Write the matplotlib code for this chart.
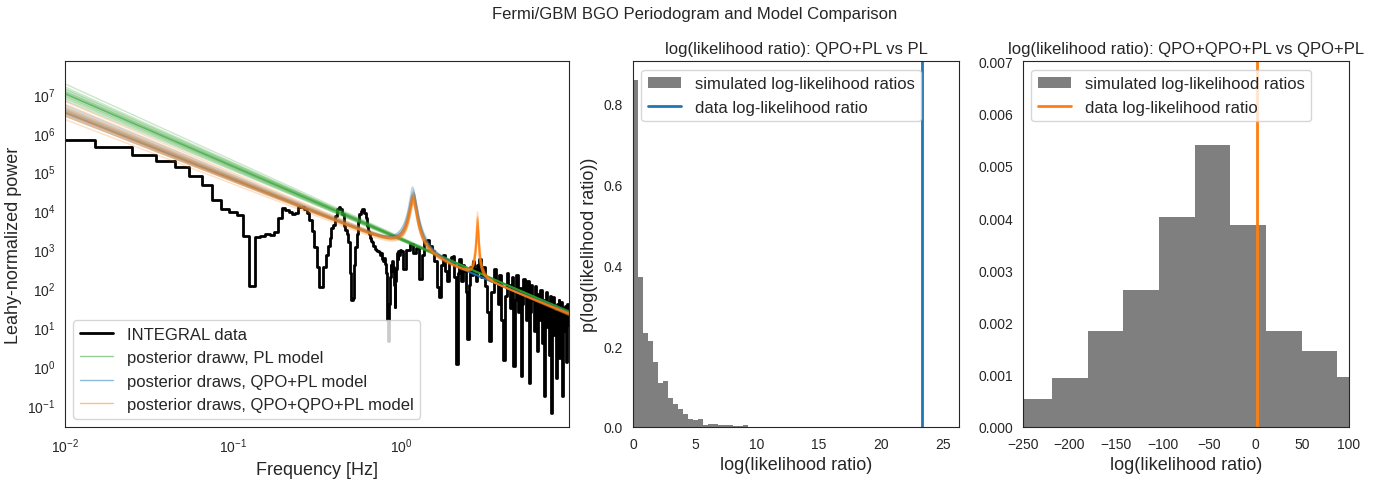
import matplotlib
matplotlib.use("Agg")
import matplotlib.pyplot as plt, seaborn as sns, numpy as np
from matplotlib.lines import Line2D
from matplotlib.ticker import NullLocator

sns.set_style("white")
plt.rcParams['font.family'] = ['Liberation Sans', 'DejaVu Sans']

# ---- periodogram (log10 Leahy power) ----
freq_lo = np.round(np.arange(1, 101) * 0.01, 2)          # 0.01 .. 1.00 Hz
logpow_lo = [5.81, 5.63, 5.43, 5.28, 5.11, 4.90, 4.65, 4.28, 4.03, 3.97,
             3.88, 3.35, 2.07, 3.33, 3.35, 3.39, 3.38, 3.46, 3.80, 4.06,
             4.02, 3.96, 3.90, 3.95, 4.08, 4.08, 4.05, 3.95, 3.75, 3.47,
             3.06, 2.55, 2.04, 2.04, 2.55, 2.85, 3.10, 3.30, 3.55, 3.62,
             3.85, 4.03, 4.08, 4.05, 3.90, 3.60, 3.50, 3.40, 3.20, 2.40,
             1.69, 1.75, 2.60, 3.06, 3.40, 3.70, 3.90, 4.00, 4.04, 4.03,
             3.95, 3.80, 3.60, 3.47, 3.40, 3.30, 3.22, 3.20, 3.10, 3.02,
             2.98, 2.95, 2.97, 2.93, 2.85, 2.92, 2.80, 2.75, 2.70, 2.78,
             2.62, 2.40, 1.20, 0.66, 1.60, 2.30, 2.60, 2.45, 2.70, 2.55,
             2.10, 1.52, 2.20, 2.50, 2.90, 2.75, 2.95, 2.85, 3.00, 2.95]
freq_mid = np.round(np.arange(21, 61) * 0.05, 2)         # 1.05 .. 3.00 Hz
logpow_mid = [2.50, 3.00, 3.15, 2.90, 3.05, 2.24, 2.85, 3.22, 3.25, 3.10,
              2.95, 2.70, 2.04, 1.78, 2.60, 2.85, 2.45, 2.20, 2.65, 2.80,
              2.83, 2.30, 0.07, 2.40, 2.75, 2.20, 2.60, 2.45, 1.90, 0.70,
              2.10, 2.55, 2.35, 2.70, 2.50, 2.20, 2.60, 2.45, 2.75, 2.30]
freq_hi = np.round(np.arange(31, 100) * 0.1, 2)          # 3.1 .. 9.9 Hz
logpow_hi = [2.55, 2.05, 1.40, 0.66, 1.90, 2.50, 2.20, 1.60, 2.35, 1.20,
             0.15, 1.80, 2.40, 2.10, 1.50, 2.30, 0.00, 1.70, 2.35, 1.40,
             2.00, -0.26, 1.60, 2.25, 1.90, 1.20, 2.20, -0.44, 1.40, 2.10,
             1.70, 0.90, 2.05, 1.50, 0.40, 1.85, 1.20, 1.95, 0.60, 1.70,
             -0.77, 1.50, 1.90, 1.00, 1.65, 0.30, 1.80, 1.20, -1.20, 1.50,
             1.78, 0.80, 1.40, -0.30, 1.60, 1.10, 1.70, 0.20, 1.30, 1.65,
             -0.77, 1.20, 1.50, 0.90, 1.55, 0.10, 1.35, 1.60, 1.05]

# ---- posterior draws: power law (log10 power at 5 Hz, index) ----
pl_index = [1.80, 1.82, 1.83, 1.84, 1.85, 1.86, 1.86, 1.87, 1.87, 1.87,
            1.88, 1.88, 1.89, 1.90, 1.91, 1.92, 1.94, 1.97]
pl_norm5 = [1.97, 1.96, 1.96, 1.97, 1.95, 1.96, 1.97, 1.96, 1.95, 1.96,
            1.97, 1.95, 1.96, 1.95, 1.96, 1.95, 1.94, 1.94]

# QPO + PL
q1_index = [1.68, 1.70, 1.71, 1.72, 1.72, 1.73, 1.73, 1.74, 1.75, 1.76, 1.78, 1.80]
q1_norm5 = [1.89, 1.88, 1.88, 1.87, 1.88, 1.87, 1.86, 1.87, 1.86, 1.86, 1.85, 1.85]
q1_f0 = [1.17, 1.18, 1.18, 1.19, 1.17, 1.18, 1.19, 1.18, 1.17, 1.18, 1.18, 1.19]
q1_amp = [18000, 25000, 30000, 22000, 40000, 20000, 26000, 15000, 24000, 35000, 21000, 28000]
q1_hw = [0.045, 0.040, 0.050, 0.045, 0.040, 0.050, 0.045, 0.050, 0.045, 0.040, 0.050, 0.045]

# QPO + QPO + PL
q2_index = [1.66, 1.69, 1.70, 1.71, 1.72, 1.73, 1.73, 1.74, 1.75, 1.76, 1.77, 1.79, 1.81, 1.84]
q2_norm5 = [1.86, 1.87, 1.86, 1.87, 1.86, 1.86, 1.85, 1.86, 1.85, 1.86, 1.85, 1.84, 1.85, 1.84]
q2_f1 = [1.18, 1.17, 1.18, 1.19, 1.18, 1.18, 1.17, 1.19, 1.18, 1.18, 1.17, 1.18, 1.19, 1.18]
q2_amp1 = [16000, 22000, 19000, 26000, 14000, 21000, 24000, 18000, 28000, 17000, 20000, 23000, 15000, 19000]
q2_f2 = [2.84, 2.85, 2.86, 2.85, 2.84, 2.86, 2.85, 2.85, 2.84, 2.86, 2.85, 2.85, 2.86, 2.84]
q2_amp2 = [3000, 6500, 4000, 9000, 2500, 5000, 3500, 7000, 2000, 4500, 6000, 3000, 5500, 4000]
q2_hw2 = [0.035, 0.030, 0.035, 0.030, 0.040, 0.035, 0.030, 0.035, 0.040, 0.030, 0.035, 0.035, 0.030, 0.035]

# ---- simulated likelihood ratio distributions (density per bin) ----
lrt1_range = (0.0, 9.3)
lrt1_density = [0.860, 0.371, 0.232, 0.214, 0.162, 0.110, 0.115, 0.072, 0.057, 0.045,
                0.031, 0.021, 0.017, 0.019, 0.004, 0.008, 0.008, 0.006, 0.005, 0.004,
                0.002, 0.002, 0.004]
lrt1_data = 23.3

lrt2_range = (-257.2, 125.8)
lrt2_density = [0.00053, 0.00093, 0.00184, 0.00263, 0.00402, 0.00540, 0.00386,
                0.00184, 0.00145, 0.00096]
lrt2_data = 1.5

GREEN, BLUE, ORANGE = '#2ca02c', '#1f77b4', '#ff7f0e'


def powerlaw(f, norm5, index):
    return 10 ** (norm5 - index * (np.log10(f) - np.log10(5.0)))


def lorentz(f, f0, amp, hw):
    return amp * hw ** 2 / ((f - f0) ** 2 + hw ** 2)


fig = plt.figure(figsize=(13.89, 4.81), dpi=100)
ax1 = fig.add_axes([0.0468, 0.1102, 0.3629, 0.7600])
ax2 = fig.add_axes([0.4557, 0.1102, 0.2347, 0.7600])
ax3 = fig.add_axes([0.7365, 0.1102, 0.2347, 0.7600])

# ---- left: periodogram + model draws ----
freq = np.concatenate([freq_lo, freq_mid, freq_hi])
power = 10 ** np.array(logpow_lo + logpow_mid + logpow_hi)
ax1.plot(freq, power, color='black', lw=2, drawstyle='steps-mid')

fm = np.logspace(-2, 1, 4000)
for n5, ind in zip(pl_norm5, pl_index):
    ax1.plot(fm, powerlaw(fm, n5, ind), color=GREEN, lw=1, alpha=0.25)
for n5, ind, f0, a, hw in zip(q1_norm5, q1_index, q1_f0, q1_amp, q1_hw):
    ax1.plot(fm, powerlaw(fm, n5, ind) + lorentz(fm, f0, a, hw), color=BLUE, lw=1, alpha=0.25)
for n5, ind, f1, a1, f2, a2, hw2 in zip(q2_norm5, q2_index, q2_f1, q2_amp1, q2_f2, q2_amp2, q2_hw2):
    m = powerlaw(fm, n5, ind) + lorentz(fm, f1, a1, 0.045) + lorentz(fm, f2, a2, hw2)
    ax1.plot(fm, m, color=ORANGE, lw=1, alpha=0.25)

ax1.set_xscale('log')
ax1.set_yscale('log')
ax1.set_xticks([1e-2, 1e-1, 1e0])
ax1.set_yticks([1e-1, 1e0, 1e1, 1e2, 1e3, 1e4, 1e5, 1e6, 1e7])
ax1.yaxis.set_minor_locator(NullLocator())
ax1.xaxis.set_minor_locator(NullLocator())
ax1.set_xlim(0.01, 9.99)
ax1.set_ylim(0.0275, 6.8e7)
ax1.set_xlabel('Frequency [Hz]', fontsize=13)
ax1.set_ylabel('Leahy-normalized power', fontsize=13)
handles = [Line2D([], [], color='black', lw=2),
           Line2D([], [], color=GREEN, lw=1, alpha=0.5),
           Line2D([], [], color=BLUE, lw=1, alpha=0.5),
           Line2D([], [], color=ORANGE, lw=1, alpha=0.5)]
labels = ['INTEGRAL data', 'posterior draww, PL model',
          'posterior draws, QPO+PL model', 'posterior draws, QPO+QPO+PL model']
ax1.legend(handles, labels, loc='lower left', fontsize=12, frameon=True)

# ---- middle: QPO+PL vs PL ----
edges1 = np.linspace(lrt1_range[0], lrt1_range[1], len(lrt1_density) + 1)
bars1 = ax2.bar(edges1[:-1], lrt1_density, width=np.diff(edges1), align='edge',
                color='black', alpha=0.5, linewidth=0)
line1 = ax2.axvline(lrt1_data, color=BLUE, lw=2)
ax2.set_xlim(0, 26.3)
ax2.set_ylim(0, 0.905)
ax2.set_xlabel('log(likelihood ratio)', fontsize=13)
ax2.set_ylabel('p(log(likelihood ratio))', fontsize=13)
ax2.set_title('log(likelihood ratio): QPO+PL vs PL', fontsize=12)
ax2.legend([bars1, line1], ['simulated log-likelihood ratios', 'data log-likelihood ratio'],
           loc='upper left', fontsize=12, frameon=True)

# ---- right: QPO+QPO+PL vs QPO+PL ----
edges2 = np.linspace(lrt2_range[0], lrt2_range[1], len(lrt2_density) + 1)
bars2 = ax3.bar(edges2[:-1], lrt2_density, width=np.diff(edges2), align='edge',
                color='black', alpha=0.5, linewidth=0)
line2 = ax3.axvline(lrt2_data, color=ORANGE, lw=2)
ax3.set_xlim(-250, 100)
ax3.set_ylim(0, 0.007)
ax3.set_xlabel('log(likelihood ratio)', fontsize=13)
ax3.set_title('log(likelihood ratio): QPO+QPO+PL vs QPO+PL', fontsize=12)
ax3.legend([bars2, line2], ['simulated log-likelihood ratios', 'data log-likelihood ratio'],
           loc='upper left', fontsize=12, frameon=True)

for ax in (ax1, ax2, ax3):
    ax.tick_params(labelsize=10)

fig.suptitle('Fermi/GBM BGO Periodogram and Model Comparison', fontsize=12, y=0.985)
fig.savefig('out.png', dpi=100)
